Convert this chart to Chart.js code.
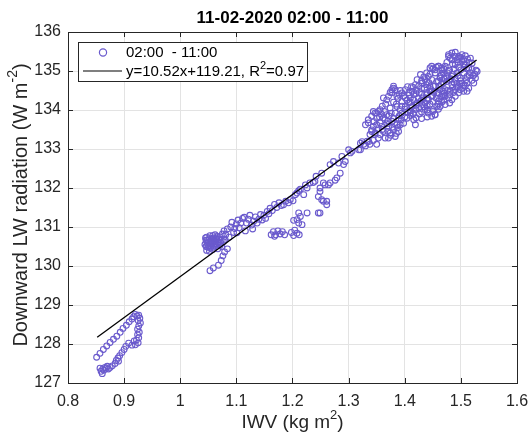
<!DOCTYPE html>
<html>
<head>
<meta charset="utf-8">
<script src="https://cdn.jsdelivr.net/npm/chart.js@4.4.1/dist/chart.umd.min.js"></script>
<style>
  html, body { margin: 0; padding: 0; background: #fff; }
  #wrap { width: 531px; height: 435px; }
</style>
</head>
<body>
<div id="wrap"><canvas id="chart" width="531" height="435"></canvas></div>
<script>
// ---- data: [IWV, downward LW] ----
const loopPts = [
  [0.851,127.66],[0.857,127.76],[0.863,127.86],[0.869,127.95],[0.875,128.04],[0.881,128.12],
  [0.887,128.2],[0.893,128.3],[0.898,128.4],[0.904,128.48],[0.909,128.57],[0.914,128.64],
  [0.917,128.7],[0.92,128.76],[0.923,128.72],[0.926,128.74],[0.928,128.66],[0.925,128.6],
  [0.929,128.54],[0.926,128.46],[0.924,128.38],[0.927,128.3],[0.924,128.24],[0.926,128.16],
  [0.922,128.1],[0.925,128.03],[0.918,128.08],[0.92,127.98],[0.914,127.97],[0.908,128.02],
  [0.903,127.94],[0.9,127.86],[0.896,127.78],[0.892,127.7],[0.889,127.64],[0.886,127.58],
  [0.89,127.56],[0.884,127.5],[0.879,127.44],[0.875,127.4],[0.87,127.43],[0.866,127.4],
  [0.862,127.36],[0.859,127.3],[0.861,127.24],[0.864,127.33],[0.868,127.38],[0.872,127.36],
  [0.857,127.38]
];
const lowBlobPts = [
  [1.053,129.88],[1.059,129.95],[1.068,130.02],[1.073,130.14],[1.076,130.26],[1.079,130.36],
  [1.084,130.44],[1.044,130.55],[1.046,130.66],[1.047,130.74],[1.049,130.48],[1.05,130.6],
  [1.052,130.7],[1.053,130.78],[1.055,130.52],[1.056,130.64],[1.058,130.42],[1.059,130.72],
  [1.061,130.57],[1.062,130.8],[1.064,130.5],[1.065,130.68],[1.067,130.44],[1.068,130.6],
  [1.07,130.75],[1.071,130.53],[1.073,130.66],[1.075,130.82],[1.047,130.4],[1.052,130.38],
  [1.057,130.58],[1.045,130.72],[1.06,130.65],[1.066,130.76],[1.054,130.46],
  [1.048,130.58],[1.051,130.5],[1.054,130.62],[1.057,130.7],[1.06,130.48],[1.063,130.62],
  [1.066,130.55],[1.069,130.68],[1.072,130.6],[1.049,130.67],[1.058,130.78],[1.064,130.72],
  [1.046,130.5],[1.056,130.55],[1.074,130.5],[1.077,130.62]
];
const bandPts = [
  [1.078,130.9],[1.081,130.8],[1.084,130.95],[1.08,130.68],[1.087,130.74],[1.09,131.0],
  [1.092,131.12],[1.095,130.86],[1.097,130.96],[1.1,131.08],[1.101,130.85],[1.103,131.18],
  [1.105,130.98],[1.108,131.1],[1.111,131.22],[1.114,131.25],[1.116,130.9],[1.118,131.1],
  [1.121,131.2],[1.124,131.3],[1.127,131.05],[1.129,130.95],[1.131,131.15],[1.134,131.26],
  [1.137,131.1],[1.14,131.2],[1.143,131.32],[1.146,131.18],[1.149,131.3],[1.152,131.22],
  [1.155,131.4],[1.158,131.34],
  [1.16,131.48],[1.164,131.42],[1.168,131.58],[1.172,131.5],[1.176,131.62],[1.18,131.55],
  [1.184,131.57],[1.188,131.66],[1.193,131.62],[1.196,131.7],[1.201,131.67],[1.205,131.83],
  [1.208,131.87],[1.211,131.93],[1.214,131.97],[1.22,131.83],[1.223,132.08],[1.226,132.0],
  [1.231,132.13],[1.237,132.14],[1.24,132.17],[1.242,132.3],[1.252,132.38]
];
const sidePts = [
  [1.162,130.8],[1.166,130.88],[1.17,130.8],[1.174,130.9],[1.178,130.82],[1.182,130.88],
  [1.186,130.8],[1.168,130.76],[1.198,130.86],[1.204,130.92],[1.208,130.84],[1.212,130.8],
  [1.202,130.78],[1.202,131.17],[1.208,131.19],[1.211,131.1],[1.217,131.06],[1.214,131.27],
  [1.211,131.36],[1.226,131.36],[1.246,131.36],[1.249,131.36],[1.246,131.78],[1.252,131.7],
  [1.255,131.66],[1.261,131.66],[1.261,131.57],[1.249,131.91],[1.249,132.0],[1.255,132.13],
  [1.258,132.08],[1.264,132.08],[1.267,132.13],[1.276,132.2],[1.279,132.26],[1.285,132.38]
];
const midPts = [
  [1.267,132.6],[1.273,132.68],[1.282,132.64],[1.288,132.81],[1.291,132.6],[1.294,132.68],
  [1.3,132.98],[1.303,132.9],[1.306,132.94],[1.318,132.98],[1.321,133.15],[1.324,133.19],
  [1.327,133.12],[1.33,133.08],[1.333,133.2],[1.336,133.19],[1.338,133.12],[1.341,133.45],
  [1.344,133.22],[1.347,133.37],[1.35,133.12],[1.353,133.28],[1.321,132.98],
  [1.335,133.67],[1.341,133.84],[1.347,133.92],[1.35,133.79],[1.353,133.96],[1.356,133.67],
  [1.359,133.58],[1.362,133.45],[1.365,133.75],[1.368,133.88],[1.371,133.58],[1.374,133.41],
  [1.377,133.71],[1.38,133.49],[1.383,133.32],[1.386,133.62],[1.389,133.45],[1.371,133.28],
  [1.365,133.28],[1.356,133.37],[1.347,133.41],[1.341,133.49],[1.338,133.37],[1.35,133.62],
  [1.33,133.62],[1.335,133.75],[1.344,133.96],[1.35,133.92],[1.356,134.01],[1.362,134.31],
  [1.368,134.26],[1.371,134.35],[1.377,134.52],[1.38,134.56],[1.38,134.61],[1.383,134.52],
  [1.377,134.44],[1.386,134.35],[1.362,133.8],[1.372,133.85],[1.38,133.78],[1.39,133.85],
  [1.344,133.58],[1.353,133.52],[1.368,133.65],[1.378,133.56],[1.392,133.62],[1.36,133.5],
  [1.37,133.45],[1.385,133.4],[1.375,133.35],[1.36,134.1],[1.366,134.15],[1.374,134.05],
  [1.38,134.2],[1.388,134.3],[1.374,134.45],[1.392,134.5],
  [1.345,133.7],[1.355,133.82],[1.358,133.9],[1.364,133.96],[1.37,133.72],[1.376,133.92],
  [1.382,133.65],[1.388,133.55],[1.394,133.75],[1.398,133.66]
];
const topBlobPts = [
  [1.395,134.44],[1.401,134.52],[1.407,134.44],[1.413,134.48],[1.419,134.65],[1.422,134.78],
  [1.428,134.91],[1.431,134.69],[1.436,134.78],[1.439,134.95],[1.445,135.08],[1.448,135.12],
  [1.454,135.03],[1.46,135.12],[1.466,135.08],[1.469,134.95],[1.463,134.82],[1.457,134.73],
  [1.451,134.61],[1.445,134.48],[1.439,134.39],[1.433,134.31],[1.428,134.22],[1.422,134.18],
  [1.416,134.26],[1.41,134.31],[1.401,134.31],[1.395,134.22],[1.401,134.09],[1.407,134.18],
  [1.413,134.09],[1.419,134.01],[1.425,134.05],[1.431,134.14],[1.436,134.01],[1.442,133.92],
  [1.448,133.84],[1.454,133.88],[1.451,134.01],[1.457,134.09],[1.46,134.22],[1.466,134.35],
  [1.469,134.48],[1.463,134.52],[1.457,134.44],[1.448,134.35],[1.442,134.26],[1.436,134.18],
  [1.41,133.92],[1.416,133.75],[1.419,133.62],[1.404,133.79],[1.395,133.92],[1.389,133.79],
  [1.392,134.01],[1.386,134.09],[1.383,133.92],
  [1.478,135.42],[1.484,135.46],[1.49,135.48],[1.496,135.37],[1.502,135.42],[1.508,135.39],
  [1.517,135.33],[1.481,135.33],[1.493,135.29],[1.505,135.29],[1.529,134.99],[1.526,134.82],
  [1.523,134.69],[1.511,134.48],[1.505,134.48],[1.499,134.52],[1.514,134.56],[1.496,134.44],
  [1.49,134.35],[1.484,134.26],[1.478,134.31],[1.472,134.14],[1.463,134.09],[1.454,133.88],
  [1.478,135.37],[1.484,135.29],[1.49,135.16],[1.496,135.33],[1.502,135.25],[1.508,135.16],
  [1.514,135.08],[1.52,135.2],[1.472,135.12],[1.478,134.99],[1.484,134.86],[1.493,134.95],
  [1.499,134.82],[1.505,134.95],[1.511,134.86],[1.517,134.95],[1.475,134.73],[1.484,134.65],
  [1.493,134.69],[1.502,134.69],[1.511,134.69],[1.472,134.52],[1.481,134.48],[1.49,134.52],
  [1.469,134.35],[1.46,134.44],[1.454,134.61],[1.448,134.78],[1.442,134.86],[1.454,134.95],
  [1.463,134.86],[1.466,135.03],[1.46,135.12],[1.469,134.69],[1.461,134.61],
  [1.405,134.6],[1.415,134.58],[1.425,134.62],[1.435,134.55],[1.445,134.6],[1.465,134.66],
  [1.485,134.58],[1.495,134.6],[1.505,134.63],[1.42,134.42],[1.43,134.4],[1.44,134.45],
  [1.45,134.37],[1.47,134.43],[1.48,134.4],[1.43,134.75],[1.44,134.72],[1.46,134.74],
  [1.47,134.8],[1.48,134.76],[1.49,134.79],[1.5,134.75],[1.51,134.78],[1.52,134.76],
  [1.445,134.92],[1.465,134.9],[1.475,134.86],[1.485,134.92],[1.495,134.88],[1.515,134.88],
  [1.525,134.92],[1.47,135.05],[1.48,135.02],[1.5,135.03],[1.51,135.06],[1.52,135.04],
  [1.475,135.22],[1.485,135.18],[1.495,135.22],[1.505,135.18],[1.515,135.22],
  [1.41,134.2],[1.42,134.12],[1.43,134.25],[1.44,134.1],[1.45,134.22],[1.46,134.15],
  [1.47,134.25],[1.48,134.18],[1.4,134.02],[1.41,133.98],[1.42,134.05],[1.43,133.95],
  [1.44,134.0],[1.45,133.96],[1.46,134.02],[1.4,133.82],[1.41,133.86],[1.42,133.8],
  [1.43,133.78],[1.44,133.82],[1.45,135.05],[1.456,135.1],
  [1.385,134.15],[1.39,134.4],[1.395,134.1],[1.398,134.35],[1.404,134.25],[1.408,134.38],
  [1.412,134.6],[1.416,134.4],[1.42,134.5],[1.424,134.3],[1.426,134.45],[1.43,134.55],
  [1.434,134.85],[1.438,134.65],[1.443,134.7],[1.447,134.52],[1.452,134.45],[1.456,134.3],
  [1.462,134.28],[1.466,134.2],[1.472,134.35],[1.476,134.5],[1.487,134.45],[1.492,134.6],
  [1.498,134.68],[1.503,134.56],[1.508,134.62],[1.488,134.7],[1.482,134.8],[1.476,134.95],
  [1.488,135.05],[1.496,135.1],[1.506,135.1],[1.512,135.3],[1.5,135.35],[1.489,135.38],
  [1.522,134.88],[1.527,135.02],[1.44,134.3],[1.445,134.15],[1.435,134.08],[1.426,133.9],
  [1.415,133.9],[1.405,133.95]
];

const xTicks = [0.8, 0.9, 1.0, 1.1, 1.2, 1.3, 1.4, 1.5, 1.6];
const yTicks = [127, 128, 129, 130, 131, 132, 133, 134, 135, 136];
const fitSlope = 10.52, fitIntercept = 119.21, fitR2 = 0.97;
const fitRange = [0.852, 1.528];
const seriesLabel = '02:00  - 11:00';
const chartTitle = '11-02-2020 02:00 - 11:00';

const allPts = [].concat(loopPts, lowBlobPts, bandPts, sidePts, midPts, topBlobPts);
const markerColor = 'rgb(106,90,205)';
const FONT = '"Liberation Sans", Arial, Helvetica, sans-serif';

function richText(ctx, parts, x, y, size, opts) {
  opts = opts || {};
  const w8 = opts.bold ? 'bold ' : '';
  const base = w8 + size + 'px ' + FONT;
  const small = w8 + Math.round(size * 0.7) + 'px ' + FONT;
  let w = 0;
  parts.forEach(p => { ctx.font = p.sup ? small : base; w += ctx.measureText(p.t).width; });
  let cx = opts.align === 'left' ? x : x - w / 2;
  ctx.textBaseline = 'middle';
  ctx.textAlign = 'left';
  parts.forEach(p => {
    ctx.font = p.sup ? small : base;
    ctx.fillText(p.t, cx, p.sup ? y - size * 0.38 : y);
    cx += ctx.measureText(p.t).width;
  });
}

const decorPlugin = {
  id: 'decor',
  afterDraw(chart) {
    const ctx = chart.ctx;
    const a = chart.chartArea;
    const xs = chart.scales.x, ys = chart.scales.y;
    ctx.save();

    // box + inward ticks
    ctx.strokeStyle = '#262626';
    ctx.lineWidth = 1;
    ctx.strokeRect(Math.round(a.left) + 0.5, Math.round(a.top) + 0.5,
                   Math.round(a.right - a.left), Math.round(a.bottom - a.top));
    ctx.beginPath();
    xTicks.forEach(v => {
      const px = Math.round(xs.getPixelForValue(v)) + 0.5;
      ctx.moveTo(px, a.bottom); ctx.lineTo(px, a.bottom - 5);
      ctx.moveTo(px, a.top); ctx.lineTo(px, a.top + 5);
    });
    yTicks.forEach(v => {
      const py = Math.round(ys.getPixelForValue(v)) + 0.5;
      ctx.moveTo(a.left, py); ctx.lineTo(a.left + 5, py);
      ctx.moveTo(a.right, py); ctx.lineTo(a.right - 5, py);
    });
    ctx.stroke();

    // title and axis titles
    ctx.fillStyle = '#000';
    richText(ctx, [{t: chartTitle}], (a.left + a.right) / 2, 18, 17, {bold: true});
    ctx.fillStyle = '#262626';
    richText(ctx, [{t: 'IWV (kg m'}, {t: '2', sup: true}, {t: ')'}], (a.left + a.right) / 2, 423, 19);
    ctx.save();
    ctx.translate(21, 205);
    ctx.rotate(-Math.PI / 2);
    richText(ctx, [{t: 'Downward LW radiation (W m'}, {t: '-2', sup: true}, {t: ')'}], 0, 0, 20);
    ctx.restore();

    // legend
    const lx = 78.5, ly = 42.5, lw = 229, lh = 39;
    ctx.fillStyle = '#fff';
    ctx.fillRect(lx, ly, lw, lh);
    ctx.strokeStyle = '#262626';
    ctx.lineWidth = 1;
    ctx.strokeRect(lx, ly, lw, lh);
    ctx.strokeStyle = markerColor;
    ctx.lineWidth = 1.2;
    ctx.beginPath();
    ctx.arc(103, 52.5, 3.6, 0, Math.PI * 2);
    ctx.stroke();
    ctx.strokeStyle = '#000';
    ctx.lineWidth = 1.2;
    ctx.beginPath();
    ctx.moveTo(83, 71); ctx.lineTo(122, 71);
    ctx.stroke();
    ctx.fillStyle = '#000';
    richText(ctx, [{t: seriesLabel}], 126, 53, 15, {align: 'left'});
    richText(ctx, [{t: 'y=' + fitSlope.toFixed(2) + 'x+' + fitIntercept.toFixed(2) + ', R'},
                   {t: '2', sup: true}, {t: '=' + fitR2.toFixed(2)}], 126, 72, 15, {align: 'left'});
    ctx.restore();
  }
};

new Chart(document.getElementById('chart'), {
  type: 'scatter',
  data: {
    datasets: [
      {
        type: 'line',
        label: 'fit',
        data: fitRange.map(x => ({x: x, y: fitSlope * x + fitIntercept})),
        borderColor: '#000',
        borderWidth: 1.3,
        pointRadius: 0,
        fill: false,
        order: 0
      },
      {
        label: seriesLabel,
        data: allPts.map(p => ({x: p[0], y: p[1]})),
        pointStyle: 'circle',
        pointRadius: 2.9,
        borderWidth: 1.1,
        borderColor: markerColor,
        backgroundColor: 'rgba(0,0,0,0)',
        order: 1
      }
    ]
  },
  options: {
    responsive: false,
    animation: false,
    layout: { padding: { top: 32, right: 14, left: 0, bottom: 0 } },
    plugins: {
      legend: { display: false },
      tooltip: { enabled: false },
      title: { display: false }
    },
    scales: {
      x: {
        type: 'linear',
        min: 0.8, max: 1.6,
        afterBuildTicks: s => { s.ticks = xTicks.map(v => ({value: v})); },
        afterFit: s => { s.height = 52; s.paddingLeft = 0; s.paddingRight = 0; },
        border: { display: false },
        grid: { color: '#e3e3e3', drawTicks: false },
        ticks: {
          padding: 9,
          color: '#262626',
          font: { family: FONT, size: 16 },
          callback: v => String(Number(v.toFixed(1)))
        }
      },
      y: {
        type: 'linear',
        min: 127, max: 136,
        afterBuildTicks: s => { s.ticks = yTicks.map(v => ({value: v})); },
        afterFit: s => { s.width = 68; s.paddingTop = 0; s.paddingBottom = 0; },
        border: { display: false },
        grid: { color: '#e3e3e3', drawTicks: false },
        ticks: {
          padding: 7,
          color: '#262626',
          font: { family: FONT, size: 16 }
        }
      }
    }
  },
  plugins: [decorPlugin]
});
</script>
</body>
</html>
